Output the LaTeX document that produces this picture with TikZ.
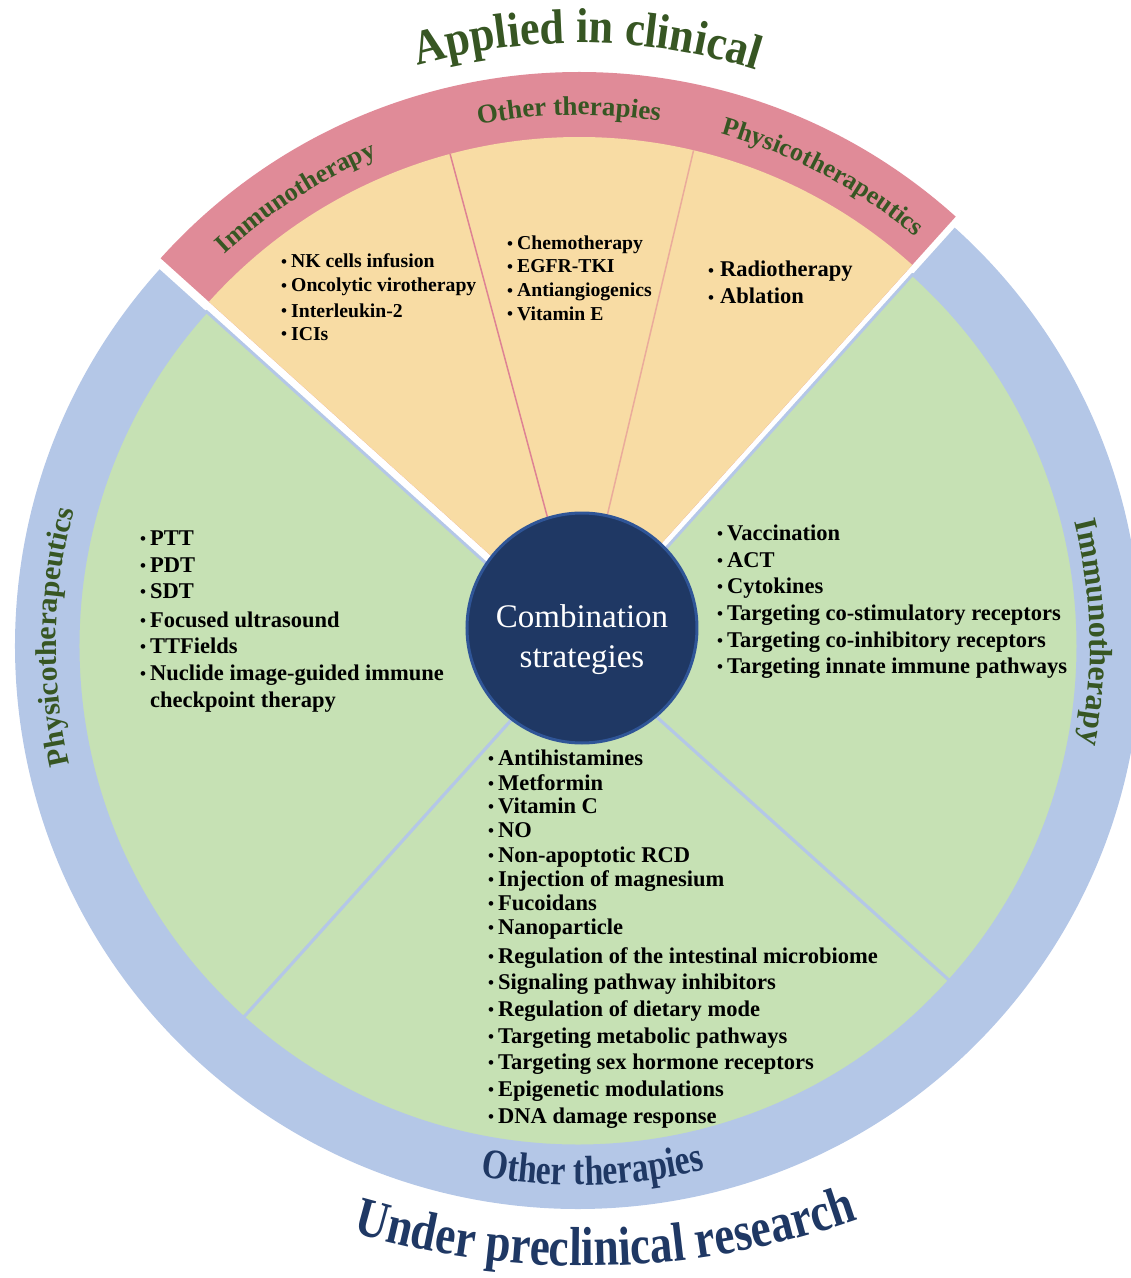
\documentclass[tikz,border=0pt]{standalone}
\usepackage{fontspec}
\setmainfont{Liberation Serif}
\newfontfamily\appfont[FakeStretch=0.9]{Liberation Serif}
\newfontfamily\ringfont[FakeStretch=0.8]{Liberation Serif}
\newfontfamily\basefont[FakeStretch=0.82]{Liberation Serif}
\usetikzlibrary{decorations.text}

\definecolor{bandpink}{RGB}{224,139,152}
\definecolor{wedgeorange}{RGB}{248,220,164}
\definecolor{leafgreen}{RGB}{198,225,180}
\definecolor{ringblue}{RGB}{180,199,231}
\definecolor{titlegreen}{RGB}{55,86,35}
\definecolor{navy}{RGB}{31,56,100}
\definecolor{navyedge}{RGB}{47,85,151}
\definecolor{divpink}{RGB}{222,130,148}

% bullet in a box of fixed width
\newcommand{\bul}[1]{\makebox[#1][l]{\fontsize{17}{17}\selectfont\raisebox{0.6pt}{\textbullet}}}

\begin{document}
\begin{tikzpicture}[x=1pt,y=1pt,
  itemA/.style={anchor=base west, inner sep=0pt, font=\bfseries\fontsize{19.7}{24}\selectfont},
  itemB/.style={anchor=base west, inner sep=0pt, font=\bfseries\fontsize{22.5}{27}\selectfont},
  divider/.style={line width=1.5pt}
]
\useasboundingbox (-578,-632) rectangle (553,646);
\clip (-578,-632) rectangle (553,646);

% ---- lower three quarters: blue ring and green sectors ----
\fill[ringblue] (0,0) -- (138:563pt) arc[start angle=138, end angle=408, radius=563pt] -- cycle;
\foreach \a/\b in {138/228, 228/318, 318/408}
  \filldraw[fill=leafgreen, draw=ringblue, line width=3pt, line join=round]
    (0,0) -- (\a:500pt) arc[start angle=\a, end angle=\b, radius=500pt] -- cycle;

% ---- upper quarter, pulled outward ----
\begin{scope}[shift={(1,11)}]
  \fill[bandpink] (0,0) -- (48:563pt) arc[start angle=48, end angle=138, radius=563pt] -- cycle;
  \fill[wedgeorange] (0,0) -- (48:498pt) arc[start angle=48, end angle=138, radius=498pt] -- cycle;
  \draw[divider, divpink] (0,0) -- (105:498pt);
  \draw[divider, divpink!55!wedgeorange] (0,0) -- (76.7:498pt);

  % band labels
  \path[decorate, decoration={text along path, text align=center, text color=titlegreen,
    text={|\bfseries\fontsize{26}{26}\selectfont|Immunotherapy}}]
    (142.9:520pt) arc[start angle=142.9, end angle=102.9, radius=520pt];
  \path[decorate, decoration={text along path, text align=center, text color=titlegreen,
    text={|\bfseries\fontsize{27}{26}\selectfont|Other therapies}}]
    (111.1:520pt) arc[start angle=111.1, end angle=71.1, radius=520pt];
  \path[decorate, decoration={text along path, text align=center, text color=titlegreen,
    text={|\bfseries\fontsize{26}{26}\selectfont|Physicotherapeutics}}]
    (82:521pt) arc[start angle=82, end angle=42, radius=521pt];

  % heading above the band
  \path[decorate, decoration={text along path, text align=center, text color=titlegreen,
    text={|\appfont\bfseries\fontsize{49}{50}\selectfont|Applied in clinical}}]
    (114.2:592pt) arc[start angle=114.2, end angle=64.2, radius=592pt];
\end{scope}

% ---- ring labels ----
\path[decorate, decoration={text along path, text align=center, text color=titlegreen,
  text={|\bfseries\fontsize{30}{30}\selectfont|Physicotherapeutics}}]
  (201:522pt) arc[start angle=201, end angle=157, radius=522pt];
\path[decorate, decoration={text along path, text align=center, text color=titlegreen,
  text={|\bfseries\fontsize{32}{32}\selectfont|Immunotherapy}}]
  (23.5:512pt) arc[start angle=23.5, end angle=-20.5, radius=512pt];
\path[decorate, decoration={text along path, text align=center, text color=navy,
  text={|\ringfont\bfseries\fontsize{42}{42}\selectfont|Other therapies}}]
  (-113.4:539pt) arc[start angle=-113.4, end angle=-63.4, radius=539pt];

% heading below the ring
\begin{scope}[shift={(7,200)}]
  \path[decorate, decoration={text along path, text align=center, text color=navy,
    text={|\basefont\bfseries\fontsize{55}{55}\selectfont|Under preclinical research}}]
    (-118.5:820pt) arc[start angle=-118.5, end angle=-58.5, radius=820pt];
\end{scope}

% ---- centre ----
\node[circle, fill=navy, draw=navyedge, line width=3pt, minimum size=230pt, inner sep=0pt] (core) at (4,18) {};
\node[font=\fontsize{33}{40}\selectfont, text=white, align=center, inner sep=0pt] (corelabel) at (core.center) [yshift=-12pt] {Combination\\strategies};

% ---- lists in the upper quarter ----
\foreach \t/\y [count=\i] in {NK cells infusion/378, Oncolytic virotherapy/354, Interleukin-2/329, ICIs/306}
  \node[itemA] (clinimm\i) at (-297,\y) {\bul{10pt}\t};
\foreach \t/\y [count=\i] in {Chemotherapy/396, EGFR-TKI/373, Antiangiogenics/349, Vitamin E/326}
  \node[itemA] (clinoth\i) at (-71,\y) {\bul{10pt}\t};
\foreach \t/\y [count=\i] in {Radiotherapy/369, Ablation/342}
  \node[itemB] (clinphy\i) at (130,\y) {\bul{12pt}\t};

% ---- lists in the green sectors ----
\foreach \t/\y [count=\i] in {PTT/101, PDT/74, SDT/48, Focused ultrasound/19, TTFields/-7, Nuclide image-guided immune/-34}
  \node[itemB] (prephy\i) at (-438,\y) {\bul{10pt}\t};
\node[itemB] (prephycont) at (-428,-61) {checkpoint therapy};

\foreach \t/\y [count=\i] in {Vaccination/106, ACT/79, Cytokines/53, Targeting co-stimulatory receptors/26,
    Targeting co-inhibitory receptors/-1, Targeting innate immune pathways/-27}
  \node[itemB] (preimm\i) at (139,\y) {\bul{10pt}\t};

\foreach \t/\y [count=\i] in {Antihistamines/-119, Metformin/-144, Vitamin C/-167, NO/-191,
    Non-apoptotic RCD/-216, Injection of magnesium/-240, Fucoidans/-264, Nanoparticle/-288,
    Regulation of the intestinal microbiome/-317, Signaling pathway inhibitors/-343,
    Regulation of dietary mode/-370, Targeting metabolic pathways/-397,
    Targeting sex hormone receptors/-423, Epigenetic modulations/-450, DNA damage response/-477}
  \node[itemB] (preoth\i) at (-90,\y) {\bul{10pt}\t};
\end{tikzpicture}
\end{document}
